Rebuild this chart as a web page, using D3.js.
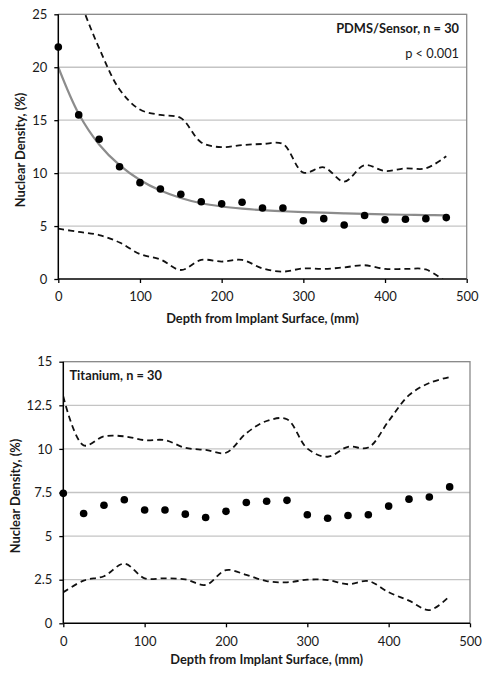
<!DOCTYPE html>
<html><head><meta charset="utf-8">
<script src="https://cdn.jsdelivr.net/npm/d3@7"></script>
<style>
html,body{margin:0;padding:0;background:#fff;}
svg text{font-family:Lato,"Open Sans",sans-serif;fill:#1a1a1a;}
</style></head>
<body>
<svg id="c" width="490" height="676"></svg>
<script>
// ---- data ----
const depths = [0,25,50,75,100,125,150,175,200,225,250,275,300,325,350,375,400,425,450,475];
const xTicks = [0,100,200,300,400,500];

// PDMS / Sensor
const pdmsMean  = [21.9,15.5,13.2,10.6,9.1,8.5,8.0,7.3,7.1,7.25,6.7,6.7,5.5,5.7,5.1,6.0,5.6,5.65,5.7,5.8];
const pdmsUpper = [31,26.5,21.8,17.9,16.0,15.5,15.2,12.9,12.45,12.65,12.75,12.75,10.05,10.55,9.2,10.75,10.2,10.45,10.45,11.6];
const pdmsLower = [4.75,4.45,4.15,3.45,2.35,1.85,0.85,1.8,1.65,1.8,1.0,0.7,1.0,0.95,1.1,1.3,0.95,0.95,0.9,-0.3];
const pdmsFit   = [20.0,15.6,12.7,10.75,9.35,8.35,7.65,7.15,6.85,6.65,6.5,6.4,6.32,6.26,6.2,6.15,6.1,6.07,6.04,6.0];
const pdmsYTicks = [0,5,10,15,20,25];

// Titanium
const tiMean  = [7.45,6.3,6.77,7.08,6.5,6.5,6.26,6.07,6.42,6.93,7.0,7.05,6.22,6.02,6.18,6.22,6.72,7.12,7.24,7.82];
const tiUpper = [13.0,10.2,10.72,10.72,10.5,10.5,10.06,9.94,9.78,10.9,11.6,11.7,10.02,9.55,10.12,10.08,11.6,13.08,13.78,14.12];
const tiLower = [1.78,2.45,2.7,3.42,2.58,2.58,2.52,2.2,3.05,2.78,2.42,2.35,2.5,2.48,2.24,2.42,1.78,1.3,0.76,1.56];
const tiYTicks = [0,2.5,5,7.5,10,12.5,15];

const svg = d3.select("#c");

function panel(o){
  const x = d3.scaleLinear().domain([0,500]).range([o.x0,o.x1]);
  const y = d3.scaleLinear().domain([0,o.ymax]).range([o.y0,o.y1]);
  const g = svg.append("g");
  const clipId = "clip"+o.id;
  svg.append("clipPath").attr("id",clipId).append("rect")
    .attr("x",o.x0).attr("y",o.y1).attr("width",o.x1-o.x0).attr("height",o.y0-o.y1);

  // gridlines
  g.selectAll(".grid").data(o.yTicks.filter(d=>d>0)).enter().append("line")
    .attr("x1",o.x0).attr("x2",o.x1).attr("y1",d=>y(d)).attr("y2",d=>y(d))
    .attr("stroke","#c4c4c4").attr("stroke-width",1.3);
  // frame top/right
  g.append("path").attr("d",`M${o.x0},${o.y1}H${o.x1}V${o.y0}`)
    .attr("fill","none").attr("stroke","#8a8a8a").attr("stroke-width",1.3);

  const plot = g.append("g").attr("clip-path",`url(#${clipId})`);
  const line = d3.line().x((d,i)=>x(depths[i])).y(d=>y(d)).curve(d3.curveCatmullRom.alpha(0.5));
  [o.upper,o.lower].forEach(arr=>{
    plot.append("path").attr("d",line(arr)).attr("fill","none")
      .attr("stroke","#111").attr("stroke-width",1.8).attr("stroke-dasharray","6,4");
  });
  if(o.fit){
    plot.append("path").attr("d",line(o.fit)).attr("fill","none")
      .attr("stroke","#8c8c8c").attr("stroke-width",2.2);
  }
  g.selectAll(".dot").data(o.mean).enter().append("circle")
    .attr("cx",(d,i)=>x(depths[i])).attr("cy",d=>y(d)).attr("r",3.8).attr("fill","#000");

  // axes
  const ya = d3.axisLeft(y).tickValues(o.yTicks).tickSize(4).tickPadding(7).tickFormat(d3.format("~g"));
  const yg = g.append("g").attr("transform",`translate(${o.x0},0)`).call(ya);
  const xa = d3.axisBottom(x).tickValues(xTicks).tickSize(4).tickPadding(9);
  const xg = g.append("g").attr("transform",`translate(0,${o.y0})`).call(xa);
  [yg,xg].forEach(a=>{
    a.select(".domain").attr("stroke","#000").attr("stroke-width",1.5);
    a.selectAll(".tick line").attr("stroke","#000").attr("stroke-width",1.3);
    a.selectAll(".tick text").attr("font-size",13).attr("fill","#1a1a1a")
      .style("font-family","Lato,'Open Sans',sans-serif");
  });
  yg.select(".domain").attr("d",`M0,${o.y0}V${o.y1}`);
  xg.select(".domain").attr("d",`M${o.x0},0H${o.x1}`);

  // titles
  g.append("text").attr("x",(o.x0+o.x1)/2).attr("y",o.xTitleY).attr("text-anchor","middle")
    .attr("font-size",12.8).attr("font-weight","bold").text("Depth from Implant Surface, (mm)");
  g.append("text").attr("transform",`translate(${o.yTitleX},${o.yTitleC}) rotate(-90)`)
    .attr("text-anchor","middle").attr("font-size",12.8).attr("font-weight","bold")
    .text("Nuclear Density, (%)");
  o.labels.forEach(l=>{
    g.append("text").attr("x",l.x).attr("y",l.y).attr("text-anchor",l.anchor)
      .attr("font-size",12.8).attr("font-weight",l.bold?"bold":"normal").text(l.t);
  });
}

panel({id:1,x0:58.3,x1:466.7,y0:279,y1:14.3,ymax:25,yTicks:pdmsYTicks,
  mean:pdmsMean,upper:pdmsUpper,lower:pdmsLower,fit:pdmsFit,
  xTitleY:323,yTitleX:25,yTitleC:150,
  labels:[{t:"PDMS/Sensor, n = 30",x:459,y:33,anchor:"end",bold:true},
          {t:"p < 0.001",x:459,y:58,anchor:"end",bold:false}]});

panel({id:2,x0:63.3,x1:470,y0:623.3,y1:361.7,ymax:15,yTicks:tiYTicks,
  mean:tiMean,upper:tiUpper,lower:tiLower,fit:null,
  xTitleY:664,yTitleX:20,yTitleC:496,
  labels:[{t:"Titanium, n = 30",x:69.5,y:380,anchor:"start",bold:true}]});
</script>
</body></html>
